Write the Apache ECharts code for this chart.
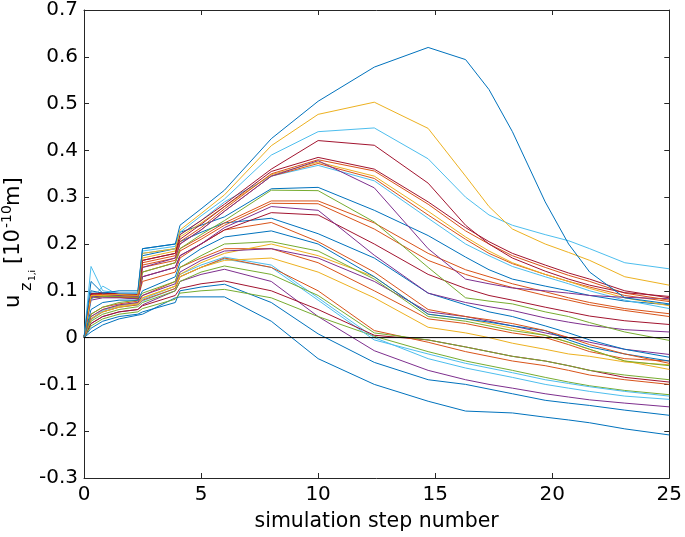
<!DOCTYPE html>
<html>
<head>
<meta charset="utf-8">
<script src="https://cdn.jsdelivr.net/npm/echarts@6/dist/echarts.min.js"></script>
<style>
html,body{margin:0;padding:0;background:#fff;}
#chart{width:685px;height:537px;}
</style>
</head>
<body>
<div id="chart"></div>
<script>
// simulation step positions of the sampled points
const steps = [0, 0.3, 0.8, 1.5, 2.3, 2.5, 3.9, 4.1, 5, 6, 8, 10, 12.4, 14.7, 16.3, 17.3, 18.3, 19.7, 20.7, 21.6, 23.1, 25];

// top group
const blueA   = [0, 0.12, 0.095, 0.1, 0.1, 0.19, 0.2, 0.24, 0.275, 0.315, 0.425, 0.505, 0.578, 0.62, 0.594, 0.53, 0.44, 0.29, 0.2, 0.14, 0.085, 0.072];
const yellowA = [0, 0.09, 0.09, 0.092, 0.09, 0.18, 0.19, 0.23, 0.265, 0.305, 0.41, 0.477, 0.503, 0.447, 0.345, 0.28, 0.232, 0.2, 0.182, 0.165, 0.13, 0.112];
const lblueA  = [0, 0.152, 0.1, 0.095, 0.095, 0.185, 0.195, 0.225, 0.26, 0.296, 0.39, 0.44, 0.448, 0.382, 0.3, 0.262, 0.24, 0.22, 0.207, 0.19, 0.16, 0.147];
const dredA   = [0, 0.092, 0.095, 0.093, 0.09, 0.165, 0.18, 0.22, 0.25, 0.285, 0.36, 0.421, 0.411, 0.33, 0.24, 0.2, 0.17, 0.142, 0.125, 0.112, 0.096, 0.088];
// second group (peak ~0.38)
const dredB   = [0, 0.094, 0.095, 0.094, 0.092, 0.165, 0.18, 0.21, 0.242, 0.28, 0.355, 0.385, 0.36, 0.29, 0.235, 0.205, 0.18, 0.155, 0.138, 0.125, 0.1, 0.085];
const redB    = [0, 0.09, 0.093, 0.092, 0.09, 0.16, 0.175, 0.205, 0.235, 0.275, 0.35, 0.38, 0.356, 0.285, 0.228, 0.2, 0.175, 0.15, 0.133, 0.12, 0.095, 0.08];
const purpleB = [0, 0.086, 0.09, 0.09, 0.088, 0.15, 0.17, 0.2, 0.23, 0.27, 0.345, 0.378, 0.32, 0.19, 0.125, 0.115, 0.106, 0.1, 0.095, 0.09, 0.086, 0.083];
const yellowB = [0, 0.09, 0.09, 0.09, 0.088, 0.17, 0.185, 0.215, 0.245, 0.28, 0.348, 0.375, 0.345, 0.27, 0.215, 0.185, 0.16, 0.135, 0.12, 0.105, 0.085, 0.068];
const orangeB = [0, 0.09, 0.092, 0.09, 0.088, 0.155, 0.17, 0.2, 0.23, 0.27, 0.345, 0.372, 0.34, 0.262, 0.21, 0.18, 0.158, 0.135, 0.12, 0.108, 0.09, 0.077];
const lblueB  = [0, 0.08, 0.11, 0.09, 0.088, 0.18, 0.19, 0.22, 0.25, 0.29, 0.345, 0.368, 0.335, 0.255, 0.2, 0.175, 0.152, 0.13, 0.115, 0.1, 0.08, 0.062];
// third group (peak ~0.32)
const blueC   = [0, 0.1, 0.095, 0.095, 0.095, 0.19, 0.2, 0.225, 0.24, 0.258, 0.318, 0.321, 0.272, 0.218, 0.172, 0.145, 0.125, 0.11, 0.1, 0.09, 0.078, 0.07];
const greenC  = [0, 0.085, 0.088, 0.088, 0.086, 0.14, 0.16, 0.19, 0.22, 0.25, 0.315, 0.314, 0.247, 0.15, 0.085, 0.078, 0.072, 0.055, 0.045, 0.032, 0.012, -0.006];
// fourth group (peak ~0.29)
const redD    = [0, 0.09, 0.09, 0.088, 0.085, 0.15, 0.165, 0.19, 0.215, 0.245, 0.292, 0.292, 0.245, 0.18, 0.145, 0.13, 0.115, 0.098, 0.085, 0.075, 0.062, 0.051];
const orangeD = [0, 0.088, 0.088, 0.087, 0.085, 0.14, 0.16, 0.185, 0.21, 0.24, 0.287, 0.286, 0.232, 0.165, 0.135, 0.12, 0.107, 0.09, 0.08, 0.07, 0.058, 0.045];
const purpleD = [0, 0.08, 0.085, 0.085, 0.083, 0.13, 0.15, 0.175, 0.2, 0.235, 0.28, 0.272, 0.176, 0.095, 0.075, 0.066, 0.058, 0.042, 0.033, 0.026, 0.017, 0.012];
const dredD   = [0, 0.085, 0.087, 0.086, 0.083, 0.13, 0.15, 0.175, 0.2, 0.23, 0.267, 0.262, 0.2, 0.135, 0.105, 0.09, 0.08, 0.065, 0.055, 0.046, 0.036, 0.028];
// fifth group (cross zero near step 20)
const blueE   = [0, 0.095, 0.095, 0.093, 0.09, 0.175, 0.19, 0.205, 0.225, 0.245, 0.255, 0.222, 0.17, 0.095, 0.07, 0.055, 0.045, 0.025, 0.01, -0.005, -0.025, -0.042];
const orangeE = [0, 0.085, 0.088, 0.087, 0.083, 0.12, 0.14, 0.17, 0.2, 0.23, 0.246, 0.205, 0.14, 0.06, 0.045, 0.038, 0.03, 0.015, 0.0, -0.015, -0.035, -0.055];
const blueE2  = [0, 0.06, 0.075, 0.08, 0.08, 0.1, 0.13, 0.16, 0.19, 0.215, 0.228, 0.2, 0.13, 0.05, 0.04, 0.033, 0.025, 0.015, -0.005, -0.02, -0.035, -0.05];
const greenE  = [0, 0.05, 0.065, 0.075, 0.08, 0.095, 0.12, 0.15, 0.175, 0.2, 0.205, 0.185, 0.125, 0.045, 0.035, 0.025, 0.015, 0.005, -0.01, -0.025, -0.05, -0.06];
const purpleE = [0, 0.045, 0.06, 0.07, 0.075, 0.09, 0.115, 0.14, 0.165, 0.185, 0.19, 0.17, 0.12, 0.055, 0.045, 0.035, 0.025, 0.01, 0.0, -0.01, -0.025, -0.036];
const yellowE = [0, 0.04, 0.055, 0.065, 0.072, 0.085, 0.11, 0.135, 0.16, 0.18, 0.2, 0.175, 0.13, 0.05, 0.04, 0.03, 0.02, 0.005, -0.01, -0.025, -0.05, -0.068];
const redE    = [0, 0.05, 0.065, 0.072, 0.078, 0.09, 0.12, 0.15, 0.17, 0.19, 0.19, 0.16, 0.1, 0.04, 0.03, 0.02, 0.01, 0.0, -0.015, -0.03, -0.045, -0.05];
const yellowE2= [0, 0.045, 0.06, 0.068, 0.074, 0.085, 0.11, 0.13, 0.15, 0.165, 0.17, 0.14, 0.085, 0.022, 0.01, 0.0, -0.012, -0.025, -0.035, -0.04, -0.052, -0.058];
// bottom group (cross zero before step 13)
const greenF  = [0, 0.035, 0.05, 0.06, 0.066, 0.075, 0.1, 0.12, 0.14, 0.153, 0.135, 0.09, 0.01, -0.005, -0.02, -0.03, -0.04, -0.05, -0.06, -0.07, -0.08, -0.09];
const redF    = [0, 0.04, 0.055, 0.065, 0.07, 0.08, 0.105, 0.13, 0.15, 0.17, 0.15, 0.1, 0.015, -0.01, -0.03, -0.04, -0.05, -0.06, -0.07, -0.08, -0.09, -0.1];
const dredF   = [0, 0.03, 0.045, 0.055, 0.06, 0.068, 0.09, 0.105, 0.115, 0.121, 0.1, 0.06, 0.005, -0.005, -0.02, -0.03, -0.04, -0.05, -0.06, -0.07, -0.085, -0.095];
const lblueF  = [0, 0.04, 0.058, 0.068, 0.074, 0.082, 0.11, 0.135, 0.155, 0.172, 0.155, 0.085, 0.0, -0.045, -0.065, -0.075, -0.085, -0.1, -0.108, -0.115, -0.125, -0.132];
const lblueF2 = [0, 0.038, 0.055, 0.065, 0.07, 0.078, 0.105, 0.13, 0.15, 0.168, 0.15, 0.08, -0.005, -0.035, -0.055, -0.065, -0.075, -0.09, -0.098, -0.105, -0.115, -0.125];
const greenF2 = [0, 0.025, 0.04, 0.05, 0.055, 0.062, 0.082, 0.095, 0.1, 0.103, 0.085, 0.045, 0.003, -0.03, -0.05, -0.06, -0.07, -0.085, -0.095, -0.103, -0.113, -0.122];
const purpleF = [0, 0.03, 0.045, 0.055, 0.06, 0.07, 0.1, 0.12, 0.135, 0.146, 0.12, 0.045, -0.028, -0.07, -0.09, -0.1, -0.108, -0.12, -0.127, -0.133, -0.14, -0.148];
const blueF   = [0, 0.02, 0.035, 0.045, 0.05, 0.055, 0.075, 0.1, 0.108, 0.114, 0.075, 0.008, -0.053, -0.09, -0.1, -0.11, -0.12, -0.134, -0.14, -0.145, -0.155, -0.166];
const blueF2  = [0, 0.012, 0.027, 0.04, 0.048, 0.05, 0.085, 0.087, 0.087, 0.087, 0.035, -0.045, -0.1, -0.136, -0.157, -0.159, -0.161, -0.17, -0.176, -0.182, -0.195, -0.208];

const yTicks = [-0.3, -0.2, -0.1, 0, 0.1, 0.2, 0.3, 0.4, 0.5, 0.6, 0.7];
const xTicks = [0, 5, 10, 15, 20, 25];

const C = {blue:'#0072BD', orange:'#D95319', yellow:'#EDB120', purple:'#7E2F8E', green:'#77AC30', lblue:'#4DBEEE', dred:'#A2142F'};

const lines = [
  [blueF2,C.blue],[blueF,C.blue],[purpleF,C.purple],[greenF2,C.green],[lblueF2,C.lblue],[lblueF,C.lblue],
  [dredF,C.dred],[redF,C.orange],[greenF,C.green],
  [yellowE2,C.yellow],[redE,C.orange],[yellowE,C.yellow],[purpleE,C.purple],[greenE,C.green],[blueE2,C.blue],[orangeE,C.orange],[blueE,C.blue],
  [dredD,C.dred],[purpleD,C.purple],[orangeD,C.orange],[redD,C.orange],
  [greenC,C.green],[blueC,C.blue],
  [lblueB,C.lblue],[orangeB,C.orange],[yellowB,C.yellow],[purpleB,C.purple],[redB,C.orange],[dredB,C.dred],
  [dredA,C.dred],[lblueA,C.lblue],[yellowA,C.yellow],[blueA,C.blue]
];

const series = lines.map(([vals,col]) => ({
  type:'line', data: steps.map((x,i)=>[x, vals[i]]), showSymbol:false, silent:true,
  lineStyle:{width:1, color:col}, itemStyle:{color:col}, animation:false, z:2
}));
series.push({type:'line', data:[[0,0],[25,0]], showSymbol:false, silent:true,
  lineStyle:{width:1, color:'#000'}, animation:false, z:3});

const FONT = 'DejaVu Sans';
const axisCol = '#262626';
const fmtY = v => { const r = Math.round(v*10)/10; return (Math.abs(r)<1e-9) ? '0' : String(r); };

const chart = echarts.init(document.getElementById('chart'), null, {renderer:'canvas'});
chart.setOption({
  backgroundColor:'#fff',
  animation:false,
  grid:{left:84, right:11, top:9, bottom:59, containLabel:false},
  xAxis:[
    {type:'value', min:0, max:25, interval:5, position:'bottom',
     axisLine:{show:true, onZero:false, lineStyle:{color:axisCol, width:1}},
     axisTick:{show:true, inside:true, length:5, lineStyle:{color:axisCol}},
     axisLabel:{show:true, fontFamily:FONT, fontSize:20, color:'#000', margin:7},
     splitLine:{show:false},
     name:'simulation step number', nameLocation:'middle', nameGap:33,
     nameTextStyle:{fontFamily:FONT, fontSize:20.5, color:'#000'}},
    {type:'value', min:0, max:25, interval:5, position:'top',
     axisLine:{show:true, onZero:false, lineStyle:{color:axisCol, width:1}},
     axisTick:{show:true, inside:true, length:5, lineStyle:{color:axisCol}},
     axisLabel:{show:false}, splitLine:{show:false}}
  ],
  yAxis:[
    {type:'value', min:-0.3, max:0.7, interval:0.1, position:'left',
     axisLine:{show:true, onZero:false, lineStyle:{color:axisCol, width:1}},
     axisTick:{show:true, inside:true, length:5, lineStyle:{color:axisCol}},
     axisLabel:{show:true, fontFamily:FONT, fontSize:20, color:'#000', margin:6, formatter:fmtY},
     splitLine:{show:false}},
    {type:'value', min:-0.3, max:0.7, interval:0.1, position:'right',
     axisLine:{show:true, onZero:false, lineStyle:{color:axisCol, width:1}},
     axisTick:{show:true, inside:true, length:5, lineStyle:{color:axisCol}},
     axisLabel:{show:false}, splitLine:{show:false}}
  ],
  series: series,
  graphic:[{
    type:'group', x:21, y:308, rotation:Math.PI/2,
    children:[
      {type:'text', x:0,   y:-7, style:{text:'u', font:'21px "DejaVu Sans"', fill:'#000', align:'left', verticalAlign:'middle'}},
      {type:'text', x:17,  y:6,  style:{text:'z', font:'16px "DejaVu Sans"', fill:'#000', align:'left', verticalAlign:'middle'}},
      {type:'text', x:27,  y:12, style:{text:'1,i', font:'9px "DejaVu Sans"', fill:'#000', align:'left', verticalAlign:'middle'}},
      {type:'text', x:44,  y:-7, style:{text:'[10', font:'21px "DejaVu Sans"', fill:'#000', align:'left', verticalAlign:'middle'}},
      {type:'text', x:80,  y:-14, style:{text:'-10', font:'14px "DejaVu Sans"', fill:'#000', align:'left', verticalAlign:'middle'}},
      {type:'text', x:102, y:-7, style:{text:'m]', font:'21px "DejaVu Sans"', fill:'#000', align:'left', verticalAlign:'middle'}}
    ]
  }]
});
</script>
</body>
</html>
